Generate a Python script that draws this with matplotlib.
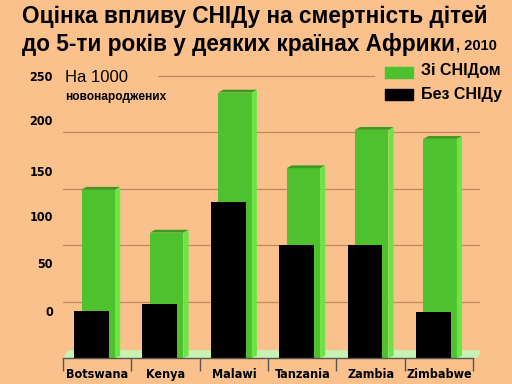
import matplotlib
matplotlib.use("Agg")
import matplotlib.pyplot as plt
from matplotlib.patches import Polygon, Rectangle

countries = ["Botswana", "Kenya", "Malawi", "Tanzania", "Zambia", "Zimbabwe"]
with_aids = [149, 111, 235, 168, 202, 194]
without_aids = [42, 48, 138, 100, 100, 41]
ytick_labels = ["250", "200", "150", "100", "50", "0"]
grid_values = [50, 100, 150, 200, 250]

bg = "#FAC18C"
green = "#4EC22E"
green_side = "#6BE447"
green_top = "#3C9A22"
grid_c = "#C08A5C"
narrow = dict(family="DejaVu Sans", stretch="condensed", fontweight="bold")

W, H = 512, 384
fig = plt.figure(figsize=(5.12, 3.84), dpi=100, facecolor=bg)

def px(x0, y0, x1, y1):
    return [x0 / W, 1 - y1 / H, (x1 - x0) / W, (y1 - y0) / H]

ax = fig.add_axes(px(63, 53, 480, 358))
ax.set_facecolor(bg)
ax.set_xlim(-0.5, 5.6)
ax.set_ylim(0, 270)
ax.set_yticks([])
for s in ax.spines.values():
    s.set_visible(False)

# gridlines (top one stops before the legend)
for g in grid_values:
    right = 4.05 if g == 250 else 5.6
    ax.plot([-0.5, right], [g, g], color=grid_c, lw=0.9, zorder=1)

# floor
ax.add_patch(Polygon([(-0.5, 0), (5.55, 0), (5.65, 7), (-0.42, 7)],
                     closed=True, color="#C6F2B4", zorder=2, lw=0))

xs = range(len(countries))
gw, bw = 0.49, 0.51
side = 0.075
for i in xs:
    gx = i + 0.056 - gw / 2 - 0.04
    v = with_aids[i]
    ax.add_patch(Rectangle((gx, 0), gw, v, color=green, zorder=3, lw=0))
    ax.add_patch(Polygon([(gx + gw, 0), (gx + gw + side, 2), (gx + gw + side, v + 2), (gx + gw, v)],
                         color=green_side, zorder=3, lw=0))
    ax.add_patch(Polygon([(gx, v), (gx + gw, v), (gx + gw + side, v + 2.5), (gx + side, v + 2.5)],
                         color=green_top, zorder=3, lw=0))
    bx = i - 0.083 - bw / 2
    ax.bar(bx + bw / 2, without_aids[i], width=bw, color="black", zorder=4, lw=0)

# x axis
ax.plot([-0.5, 5.5], [0, 0], color="#555555", lw=1, zorder=5, clip_on=False)
ax.set_xticks([b - 0.5 for b in range(len(countries) + 1)])
ax.set_xticklabels([])
ax.tick_params(axis="x", length=9, color="#555555", width=1)
for i, c in enumerate(countries):
    ax.text(i, -15, c, ha="center", va="center", fontsize=9, clip_on=False, **narrow)

# y labels (offset from the gridlines as in the original)
ylab_pos = [248, 209, 164, 124, 83, 40]
for p, t in zip(ylab_pos, ytick_labels):
    fig.text(53 / W, 1 - (358 - p * 1.13) / H, t, ha="right", va="center",
             fontsize=9, **narrow)

# units note
fig.patches.append(Rectangle((63 / W, 1 - 104 / H), 94 / W, 38 / H, transform=fig.transFigure,
                             color=bg, zorder=5))
fig.text(65 / W, 1 - 77 / H, "На 1000", fontsize=12, family="Liberation Sans",
         va="center", ha="left", zorder=6)
fig.text(65 / W, 1 - 97 / H, "новонароджених", fontsize=8.6, fontweight="bold",
         family="Liberation Sans", va="center", ha="left", zorder=6)

# legend
fig.patches.append(Rectangle((385 / W, 1 - 78 / H), 28 / W, 11 / H, transform=fig.transFigure,
                             color=green, zorder=6))
fig.patches.append(Rectangle((385 / W, 1 - 100 / H), 28 / W, 11 / H, transform=fig.transFigure,
                             color="black", zorder=6))
fig.text(421 / W, 1 - 70 / H, "Зі СНІДом", fontsize=11.5, fontweight="bold",
         family="Liberation Sans", va="center", ha="left")
fig.text(421 / W, 1 - 94 / H, "Без СНІДу", fontsize=11.5, fontweight="bold",
         family="Liberation Sans", va="center", ha="left")

# title
fig.text(22 / W, 1 - 17 / H, "Оцінка впливу СНІДу на смертність дітей", fontsize=16.3,
         fontweight="bold", family="Liberation Sans", va="center", ha="left")
t2 = fig.text(22 / W, 1 - 44 / H, "до 5-ти років у деяких країнах Африки", fontsize=16.3,
              fontweight="bold", family="Liberation Sans", va="center", ha="left")
fig.canvas.draw()
bb = t2.get_window_extent()
fig.text(bb.x1 / W + 1 / W, 1 - 46 / H, ", 2010", fontsize=10.5, fontweight="bold",
         family="Liberation Sans", va="center", ha="left")

fig.savefig("out.png", dpi=100, facecolor=bg)
